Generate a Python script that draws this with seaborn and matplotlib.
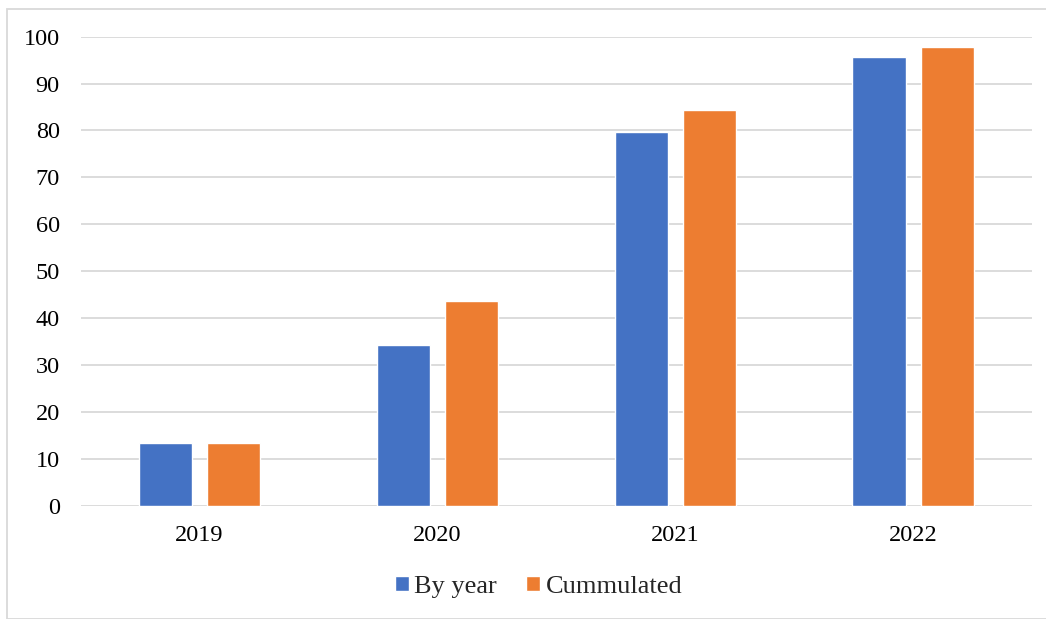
import matplotlib
matplotlib.use("Agg")
import matplotlib.pyplot as plt
import seaborn as sns
import pandas as pd
from matplotlib.patches import Rectangle

years = ["2019", "2020", "2021", "2022"]
by_year = [13.4, 34.2, 79.7, 95.6]
cummulated = [13.4, 43.7, 84.4, 97.8]
series_names = ["By year", "Cummulated"]
colors = ["#4472C4", "#ED7D31"]
yticks = [0, 10, 20, 30, 40, 50, 60, 70, 80, 90, 100]

df = pd.DataFrame({
    "year": years * 2,
    "value": by_year + cummulated,
    "series": [series_names[0]] * len(years) + [series_names[1]] * len(years),
})

sns.set_theme(style="white")
plt.rcParams["font.family"] = ["Liberation Serif", "DejaVu Serif"]

W, H = 1046, 619
fig = plt.figure(figsize=(W / 100, H / 100), dpi=100)
left, right, top, bottom = 80.7, 1032, 36.7, 505.7
ax = fig.add_axes([left / W, 1 - bottom / H, (right - left) / W, (bottom - top) / H])

sns.barplot(data=df, x="year", y="value", hue="series", palette=colors,
            width=0.573, gap=0.22, ax=ax, saturation=1, legend=True)

ax.set_xlim(-0.5, 3.5)
ax.set_ylim(0, 100)
ax.set_yticks(yticks)
ax.set_yticklabels([str(v) for v in yticks])
ax.yaxis.grid(True, color="#D9D9D9", linewidth=1.3)
ax.set_axisbelow(True)
for s in ax.spines.values():
    s.set_visible(False)
ax.tick_params(axis="both", length=0, labelsize=17.5, colors="#000000")
ax.tick_params(axis="y", pad=15)
ax.tick_params(axis="x", pad=14)
ax.set_xlabel("")
ax.set_ylabel("")

handles, labels = ax.get_legend_handles_labels()
ax.legend_.remove()
fig.legend(handles, labels, loc="center", bbox_to_anchor=(0.515, 1 - 587 / H),
           ncol=2, frameon=False, fontsize=19, handlelength=0.53, handleheight=0.53,
           handletextpad=0.2, columnspacing=1.1)

fig.patches.append(Rectangle((6.5 / W, 0), 1.2, 1 - 9 / H, transform=fig.transFigure,
                             fill=False, edgecolor="#D9D9D9", linewidth=1.3))

fig.savefig("out.png", dpi=100)
